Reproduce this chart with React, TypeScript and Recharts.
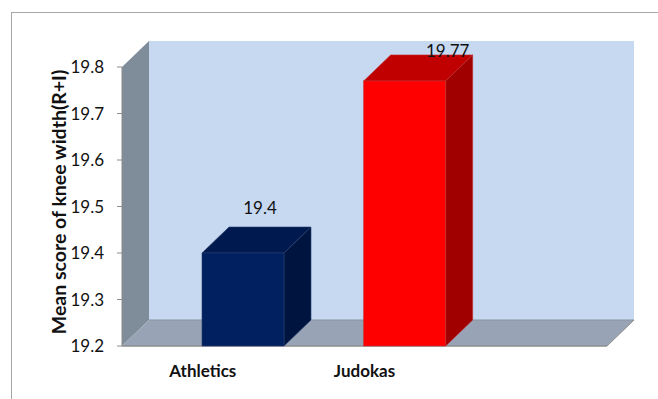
import { BarChart, Bar, XAxis, YAxis, ReferenceArea, LabelList, Label } from "recharts";

const categories = ["Athletics", "Judokas", ""];
const meanScores = [19.4, 19.77, null];
const yTicks = [19.2, 19.3, 19.4, 19.5, 19.6, 19.7, 19.8];
const yTitle = "Mean score of knee width(R+I)";

// front, top, side shades for each bar
const BAR_COLORS = [
  { front: "#002060", top: "#001a50", side: "#001440", edge: "#2a3f6e" },
  { front: "#ff0000", top: "#c00000", side: "#a00000", edge: "#c03030" },
];

const DEPTH_X = 27;
const DEPTH_Y = 26;
const FONT = "Lato, 'Open Sans', sans-serif";

const data = categories.map((name, i) => ({ name, value: meanScores[i] }));

function Walls(props: any) {
  const { x, y, width, height } = props;
  const bottom = y + height;
  const right = x + width;
  return (
    <g>
      {/* back wall */}
      <rect x={x + DEPTH_X} y={y - DEPTH_Y} width={width} height={height} fill="#c6d9f1" />
      {/* side wall */}
      <polygon
        points={`${x},${y} ${x + DEPTH_X},${y - DEPTH_Y} ${x + DEPTH_X},${bottom - DEPTH_Y} ${x},${bottom}`}
        fill="#7f8c99"
      />
      {/* floor */}
      <polygon
        points={`${x},${bottom} ${x + DEPTH_X},${bottom - DEPTH_Y} ${right + DEPTH_X},${bottom - DEPTH_Y} ${right},${bottom}`}
        fill="#98a4b5"
      />
      <line x1={x} y1={bottom} x2={right} y2={bottom} stroke="#8c8c8c" strokeWidth={1.5} />
      <line x1={right} y1={bottom} x2={right + DEPTH_X} y2={bottom - DEPTH_Y} stroke="#8c8c8c" />
      <line x1={x + DEPTH_X} y1={bottom - DEPTH_Y} x2={right + DEPTH_X} y2={bottom - DEPTH_Y} stroke="#8a949f" />
    </g>
  );
}

function Bar3D(props: any) {
  const { x, y, width, height, index } = props;
  if (!height || height <= 0) return null;
  const c = BAR_COLORS[index % BAR_COLORS.length];
  // Excel draws the 3D box with its front face starting at the category centre
  const left = x + width / 2 - 1;
  const right = left + width;
  const bottom = y + height;
  return (
    <g>
      <polygon
        points={`${left},${y} ${left + DEPTH_X},${y - DEPTH_Y} ${right + DEPTH_X},${y - DEPTH_Y} ${right},${y}`}
        fill={c.top}
        stroke={c.edge}
        strokeWidth={0.6}
      />
      <polygon
        points={`${right},${y} ${right + DEPTH_X},${y - DEPTH_Y} ${right + DEPTH_X},${bottom - DEPTH_Y} ${right},${bottom}`}
        fill={c.side}
        stroke={c.edge}
        strokeWidth={0.6}
      />
      <rect x={left} y={y} width={width} height={height} fill={c.front} stroke={c.edge} strokeWidth={0.6} />
    </g>
  );
}

function ValueLabel(props: any) {
  const { x, y, width, value } = props;
  if (value == null) return null;
  const frontCenter = x + width;
  let ly = y - DEPTH_Y - 20;
  let lx = frontCenter + 16;
  if (ly < 50) {
    // pushed inside the chart area, Excel nudges it to the right
    ly = 50;
    lx = frontCenter + 42;
  }
  return (
    <text x={lx} y={ly} textAnchor="middle" dominantBaseline="central" fontFamily={FONT} fontSize={17} fill="#111">
      {value}
    </text>
  );
}

function YTitle() {
  const cx = 58;
  const cy = 202;
  return (
    <text
      x={cx}
      y={cy}
      transform={`rotate(-90, ${cx}, ${cy})`}
      textAnchor="middle"
      dominantBaseline="central"
      fontFamily={FONT}
      fontWeight={700}
      fontSize={19.5}
      fill="#111"
    >
      {yTitle}
    </text>
  );
}

export default function App() {
  return (
    <div style={{ position: "fixed", left: 0, top: 0, width: 658, height: 399, overflow: "hidden", background: "#fff" }}>
      <div
        style={{
          position: "absolute",
          left: 11,
          top: 12,
          width: 700,
          height: 500,
          border: "1px solid #a6a6a6",
        }}
      />
      <div style={{ position: "absolute", left: 0, top: 0 }}>
        <BarChart width={658} height={399} data={data} margin={{ top: 67, right: 51, bottom: 23, left: 0 }} barSize={82}>
          <ReferenceArea y1={19.2} y2={19.8} shape={<Walls />} ifOverflow="visible" />
          <XAxis
            dataKey="name"
            axisLine={false}
            tickLine={false}
            tickSize={0}
            tickMargin={19}
            height={30}
            tick={{ fontFamily: FONT, fontWeight: 700, fontSize: 17, fill: "#111" }}
          />
          <YAxis
            type="number"
            domain={[19.2, 19.8]}
            ticks={yTicks}
            width={122}
            tickSize={5}
            tickMargin={13}
            axisLine={{ stroke: "#8c8c8c" }}
            tickLine={{ stroke: "#8c8c8c" }}
            tick={{ fontFamily: FONT, fontSize: 17, fill: "#111" }}
            tickFormatter={(v) => v.toFixed(1)}
          >
            <Label content={<YTitle />} />
          </YAxis>
          <Bar dataKey="value" shape={<Bar3D />} isAnimationActive={false}>
            <LabelList dataKey="value" content={<ValueLabel />} />
          </Bar>
        </BarChart>
      </div>
    </div>
  );
}
